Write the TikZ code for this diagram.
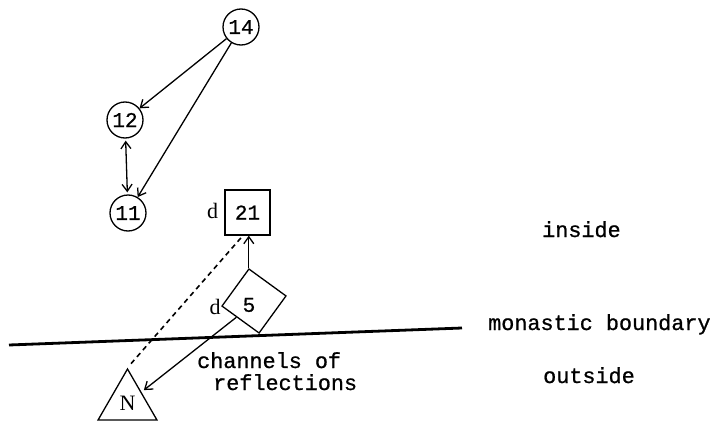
\documentclass[tikz,border=0pt]{standalone}
\usepackage{fontspec}
\setmainfont{Liberation Serif}
\newfontfamily\twfont[FakeBold=0.8]{Liberation Mono}
\usetikzlibrary{arrows.meta,shapes.geometric,calc}
\newcommand\numfnt{\twfont\fontsize{21}{24}\selectfont}
\newcommand\labfnt{\twfont\fontsize{21.8}{26}\selectfont}
\newcommand\serfnt{\rmfamily\fontsize{22}{26}\selectfont}
\begin{document}
\begin{tikzpicture}[x=1pt,y=-1pt,
  lw/.style={line width=1.3pt},
  circ/.style={circle,draw,lw,minimum size=36pt,inner sep=0pt,font=\numfnt},
  arr/.style={lw,-{Straight Barb[length=7pt,width=10pt]}},
  darr/.style={lw,{Straight Barb[length=7pt,width=10pt]}-{Straight Barb[length=7pt,width=10pt]}},
  lab/.style={font=\labfnt,inner sep=0pt,anchor=base west},
  dlab/.style={font=\serfnt,inner sep=0pt}]
\useasboundingbox (0,0) rectangle (715,423);
% nodes
\node[circ] (n14) at (241,27) {14};
\node[circ] (n12) at (125,120) {12};
\node[circ] (n11) at (128,213) {11};
\node[draw,lw,minimum size=45pt,inner sep=0pt,font=\numfnt] (sq) at (247.5,212.5) {21};
\node[dlab] (d1) at (212.5,211) {d};
\node[draw,lw,rectangle,minimum size=45.8pt,rotate=-36,inner sep=0pt] (dm) at (254,301) {};
\node[font=\numfnt,inner sep=0pt] (five) at (249,305) {5};
\node[dlab] (d2) at (215,307) {d};
\node[regular polygon,regular polygon sides=3,draw,lw,minimum size=68pt,inner sep=0pt,font=\serfnt] (N) at (127.5,403) {N};
% texts
\node[lab] (ins) at (542,237) {inside};
\node[lab] (mb) at (488,330) {monastic boundary};
\node[lab] (out) at (543,383) {outside};
\node[lab] (ch) at (197,368) {channels of};
\node[lab] (rf) at (213,390) {reflections};
% boundary
\coordinate (bl) at (9,345);
\coordinate (br) at (462,328);
\draw[line width=2.8pt] (bl) -- (br);
% connectors
\draw[arr] (n14) -- (n12);
\draw[arr] (n14) -- (n11);
\draw[darr,shorten <=2pt,shorten >=2pt] (n12) -- (n11);
\draw[arr] (dm.north west) -- (dm.north west |- sq.south);
\draw[arr,shorten >=3pt] ($(dm.south west)!0.4!(dm.south east)$) -- (N);
\draw[line width=1.6pt,dash pattern=on 5pt off 4pt,shorten <=3pt,shorten >=5pt] ($(sq.south west)!0.4!(sq.south east)$) -- (N.corner 1);
\end{tikzpicture}
\end{document}
